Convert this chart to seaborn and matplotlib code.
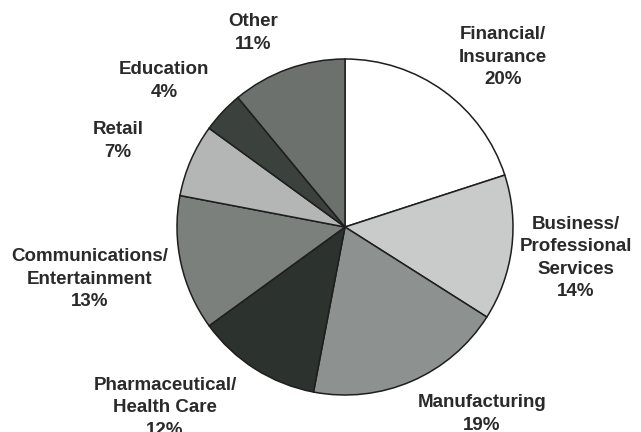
import matplotlib
matplotlib.use("Agg")
import matplotlib.pyplot as plt
import seaborn as sns

sns.set_theme(style="white")
plt.rcParams['font.family'] = ['Liberation Sans', 'DejaVu Sans']

categories = ["Financial/\nInsurance", "Business/\nProfessional\nServices", "Manufacturing",
              "Pharmaceutical/\nHealth Care", "Communications/\nEntertainment", "Retail",
              "Education", "Other"]
shares = [20, 14, 19, 12, 13, 7, 4, 11]
colors = ["#ffffff", "#c9cbca", "#8d918f", "#2c322d", "#7b807d", "#b3b6b5", "#3b423d", "#6c716e"]

# label anchor positions in pixel space (x, y from top)
label_pos = [(503, 57), (576, 258), (482, 414), (165, 408), (90, 279), (118, 141), (164, 81), (253, 33)]

W, H = 641, 432
fig = plt.figure(figsize=(W / 100, H / 100), dpi=100)
ax = fig.add_axes([0, 0, 1, 1])

ax.pie(shares, colors=colors, startangle=90, counterclock=False,
       center=(345, H - 227), radius=168,
       wedgeprops=dict(edgecolor="#1e1e1e", linewidth=1.1), frame=True)
ax.set_xlim(0, W)
ax.set_ylim(0, H)
ax.set_aspect("equal")
ax.axis("off")

for cat, val, (x, y) in zip(categories, shares, label_pos):
    ax.text(x, H - y, f"{cat}\n{val}%", ha="center", va="center",
            fontsize=13.5, fontweight="bold", color="#2a2a2a", linespacing=1.4)

fig.savefig("out.png", dpi=100, facecolor="white")
